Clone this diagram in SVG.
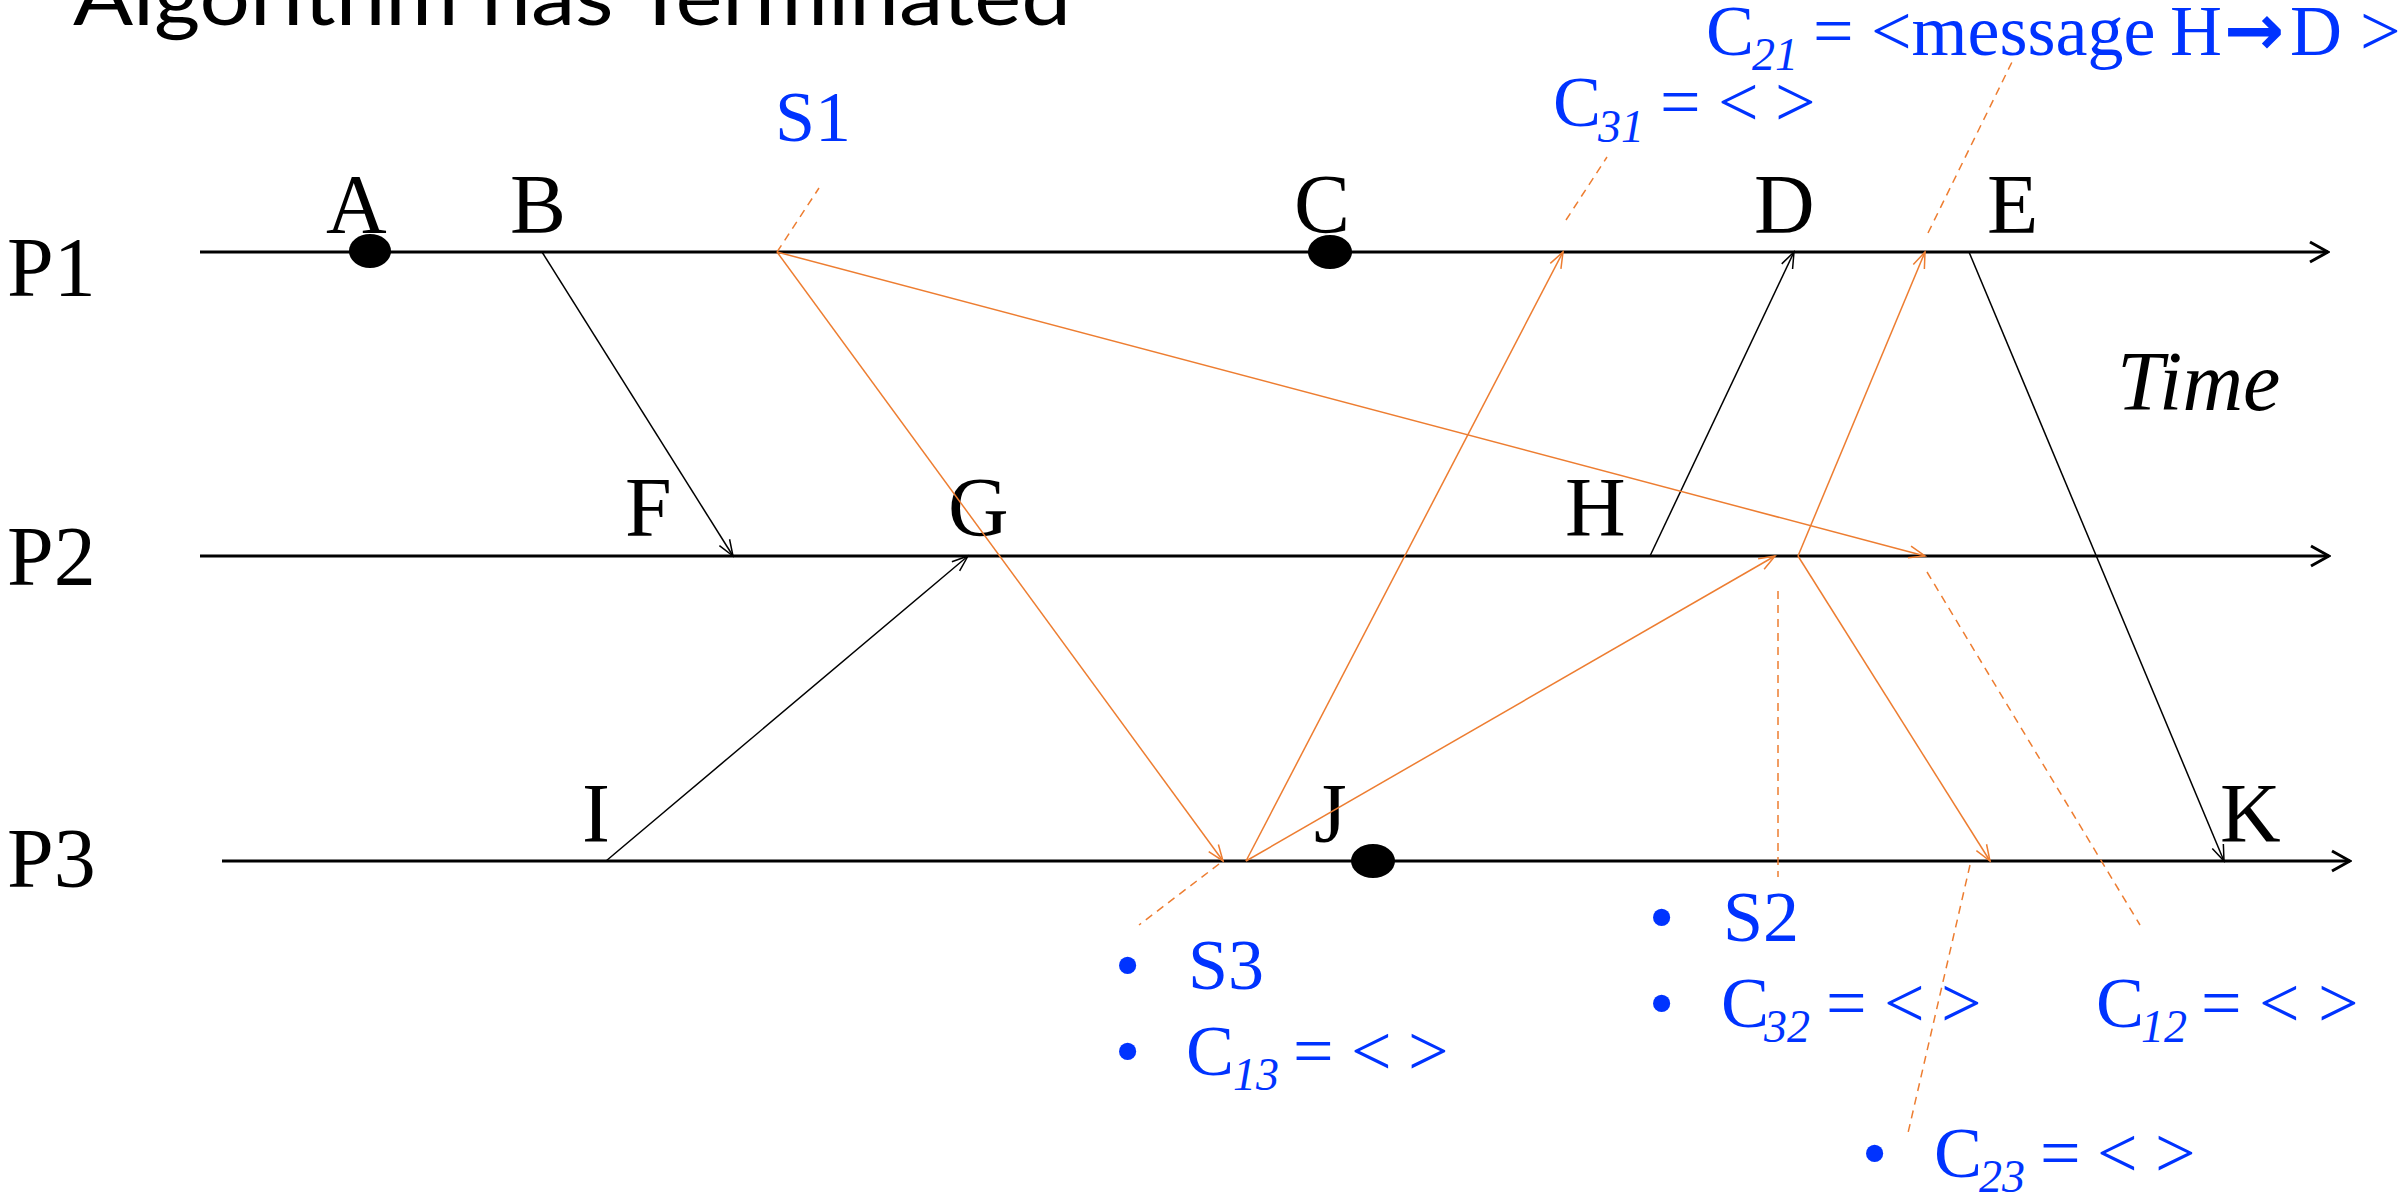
<svg xmlns="http://www.w3.org/2000/svg" width="2402" height="1196" viewBox="0 0 2402 1196">
<defs>
<style>
.lbl{font-family:"Liberation Serif","Times New Roman",serif;font-size:84px;fill:#000}
.blue{font-family:"Liberation Serif","Times New Roman",serif;font-size:72px;fill:#0033FF}
.sub{font-size:46px;font-style:italic}
.tl{stroke:#000;stroke-width:3;fill:none}
.mk{stroke:#000;stroke-width:1.5;fill:none}
.mo{stroke:#ED7D31;stroke-width:1.5;fill:none}
.dash{stroke:#ED7D31;stroke-width:1.5;fill:none;stroke-dasharray:8 6}
</style>
<marker id="ahT" markerUnits="userSpaceOnUse" viewBox="-22 -13 24 26" markerWidth="24" markerHeight="26" refX="0" refY="0" orient="auto">
<path d="M-18,-10 L0,0 L-18,10" fill="none" stroke="#000" stroke-width="3"/>
</marker>
<marker id="ahK" markerUnits="userSpaceOnUse" viewBox="-20 -9 22 18" markerWidth="22" markerHeight="18" refX="0" refY="0" orient="auto">
<path d="M-16,-6 L0,0 L-16,6" fill="none" stroke="#000" stroke-width="1.5"/>
</marker>
<marker id="ahO" markerUnits="userSpaceOnUse" viewBox="-20 -9 22 18" markerWidth="22" markerHeight="18" refX="0" refY="0" orient="auto">
<path d="M-16,-6 L0,0 L-16,6" fill="none" stroke="#ED7D31" stroke-width="1.5"/>
</marker>
</defs>
<rect width="2402" height="1196" fill="#fff"/>

<text id="title" x="73" y="25" font-family="Lato,'Open Sans',sans-serif" font-size="80" textLength="998" lengthAdjust="spacingAndGlyphs" fill="#000">Algorithm has Terminated</text>

<g id="P1">
<line class="tl" x1="200" y1="252" x2="2328" y2="252" marker-end="url(#ahT)"/>
<text class="lbl" x="7" y="296">P1</text>
</g>
<g id="P2">
<line class="tl" x1="200" y1="556" x2="2329" y2="556" marker-end="url(#ahT)"/>
<text class="lbl" x="7" y="585">P2</text>
</g>
<g id="P3">
<line class="tl" x1="222" y1="861" x2="2350" y2="861" marker-end="url(#ahT)"/>
<text class="lbl" x="7" y="887">P3</text>
</g>
<g id="time"><text class="lbl" x="2117" y="410" font-style="italic">Time</text></g>

<g id="A"><ellipse cx="370" cy="251" rx="21" ry="17" fill="#000"/><text class="lbl" x="326" y="233">A</text></g>
<g id="B"><text class="lbl" x="510" y="233">B</text></g>
<g id="C"><ellipse cx="1330" cy="252" rx="22" ry="17" fill="#000"/><text class="lbl" x="1294" y="233">C</text></g>
<g id="D"><text class="lbl" x="1754" y="233">D</text></g>
<g id="E"><text class="lbl" x="1987" y="233">E</text></g>
<g id="F"><text class="lbl" x="625" y="536">F</text></g>
<g id="G"><text class="lbl" x="948" y="536">G</text></g>
<g id="H"><text class="lbl" x="1565" y="536">H</text></g>
<g id="I"><text class="lbl" x="582" y="842">I</text></g>
<g id="J"><ellipse cx="1373" cy="861" rx="22" ry="17" fill="#000"/><text class="lbl" x="1314" y="842">J</text></g>
<g id="K"><text class="lbl" x="2220" y="842">K</text></g>

<g id="connectors">
<line class="mk" x1="542" y1="252" x2="733" y2="556" marker-end="url(#ahK)"/>
<line class="mk" x1="606" y1="861" x2="968" y2="556" marker-end="url(#ahK)"/>
<line class="mk" x1="1650" y1="556" x2="1794" y2="252" marker-end="url(#ahK)"/>
<line class="mk" x1="1969" y1="252" x2="2224" y2="861" marker-end="url(#ahK)"/>
<line class="mo" x1="777" y1="252" x2="1223" y2="861" marker-end="url(#ahO)"/>
<line class="mo" x1="777" y1="252" x2="1925" y2="556" marker-end="url(#ahO)"/>
<line class="mo" x1="1246" y1="861" x2="1563" y2="252" marker-end="url(#ahO)"/>
<line class="mo" x1="1246" y1="861" x2="1775" y2="556" marker-end="url(#ahO)"/>
<line class="mo" x1="1798" y1="556" x2="1925" y2="252" marker-end="url(#ahO)"/>
<line class="mo" x1="1798" y1="556" x2="1990" y2="861" marker-end="url(#ahO)"/>
<line class="dash" x1="777" y1="252" x2="819" y2="188"/>
<line class="dash" x1="1566" y1="220" x2="1607" y2="157"/>
<line class="dash" x1="1928" y1="233" x2="2012" y2="62"/>
<line class="dash" x1="1778" y1="591" x2="1778" y2="877"/>
<line class="dash" x1="1927" y1="572" x2="2140" y2="925"/>
<line class="dash" x1="1219" y1="864" x2="1139" y2="925"/>
<line class="dash" x1="1970" y1="865" x2="1908" y2="1133"/>
</g>

<g id="S1"><text class="blue" x="775" y="141">S1</text></g>
<g id="C31"><text class="blue" y="126"><tspan x="1553">C</tspan><tspan class="sub" x="1598" y="142">31</tspan><tspan x="1660" y="126">=</tspan><tspan x="1718">&lt;</tspan><tspan x="1775">&gt;</tspan></text></g>
<g id="C21"><text class="blue" y="55"><tspan x="1706">C</tspan><tspan class="sub" x="1752" y="70">21</tspan><tspan x="1813" y="55">=</tspan><tspan x="1871">&lt;message</tspan><tspan x="2170">H</tspan><tspan x="2224" font-family="'DejaVu Sans',sans-serif" font-weight="bold" font-size="72">→</tspan><tspan x="2290">D</tspan><tspan x="2360">&gt;</tspan></text></g>

<g id="S3">
<text class="blue" y="989"><tspan x="1115">•</tspan><tspan x="1188">S3</tspan></text>
<text class="blue" y="1075"><tspan x="1115">•</tspan><tspan x="1186">C</tspan><tspan class="sub" x="1233" y="1090">13</tspan><tspan x="1293" y="1075">=</tspan><tspan x="1351">&lt;</tspan><tspan x="1408">&gt;</tspan></text>
</g>
<g id="S2">
<text class="blue" y="941"><tspan x="1649">•</tspan><tspan x="1723">S2</tspan></text>
<text class="blue" y="1027"><tspan x="1649">•</tspan><tspan x="1721">C</tspan><tspan class="sub" x="1764" y="1042">32</tspan><tspan x="1826" y="1027">=</tspan><tspan x="1884">&lt;</tspan><tspan x="1941">&gt;</tspan></text>
</g>
<g id="C12">
<text class="blue" y="1027"><tspan x="2096">C</tspan><tspan class="sub" x="2141" y="1042">12</tspan><tspan x="2201" y="1027">=</tspan><tspan x="2259">&lt;</tspan><tspan x="2318">&gt;</tspan></text>
</g>
<g id="C23">
<text class="blue" y="1177"><tspan x="1862">•</tspan><tspan x="1934">C</tspan><tspan class="sub" x="1979" y="1192">23</tspan><tspan x="2040" y="1177">=</tspan><tspan x="2097">&lt;</tspan><tspan x="2155">&gt;</tspan></text>
</g>
</svg>
